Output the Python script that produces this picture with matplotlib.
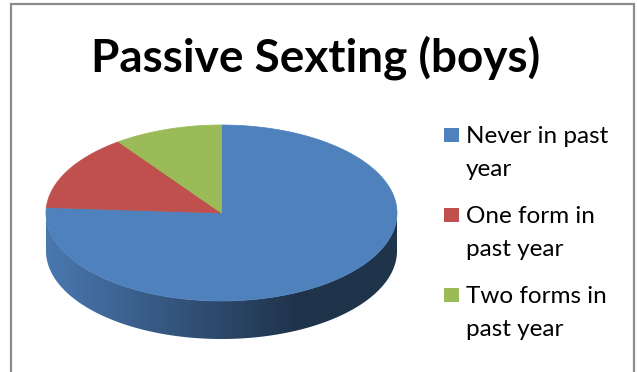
import numpy as np
import matplotlib
matplotlib.use("Agg")
import matplotlib.pyplot as plt
from matplotlib.patches import Polygon, Rectangle
from matplotlib.colors import to_rgb

title = "Passive Sexting (boys)"
categories = ["Never in past\nyear", "One form in\npast year", "Two forms in\npast year"]
shares = [76, 14, 10]
colors = ["#4F81BD", "#C0504D", "#9BBB59"]

W, H = 638, 372
fig = plt.figure(figsize=(W / 100, H / 100), dpi=100)
ax = fig.add_axes([0, 0, 1, 1])
ax.set_xlim(0, W)
ax.set_ylim(H, 0)
ax.axis("off")

# chart frame (open at the bottom)
ax.plot([11, 11, 634, 634], [H + 5, 4, 4, H + 5], color="#8C8C8C", lw=1.6,
        solid_joinstyle="miter", zorder=1)

# pie geometry in pixel space
cx, cy, rx, ry, depth = 221.5, 213.0, 175.5, 88.0, 38.0


def ell(theta_deg, dy=0.0):
    t = np.radians(theta_deg)
    return cx + rx * np.cos(t), cy - ry * np.sin(t) + dy


fracs = np.array(shares, dtype=float) / sum(shares)
bounds = 90 - 360 * np.concatenate([[0], np.cumsum(fracs)])


def shade(x):
    # side wall darkens from left to right
    t = np.clip((x - (cx - rx)) / 250.0, 0, 1)
    return 0.93 - (0.93 - 0.40) * t


xgrid = np.linspace(cx - rx - 2, cx + rx + 2, 400)

# side wall: visible front half of each slice, shaded with a horizontal gradient
for i, c in enumerate(colors):
    a0, a1 = bounds[i + 1], bounds[i]  # a0 < a1
    base = np.array(to_rgb(c))
    for k in range(-1, 2):
        lo = max(a0, 180 + 360 * k)
        hi = min(a1, 360 + 360 * k)
        if hi <= lo:
            continue
        th = np.linspace(lo, hi, 400)
        xt, yt = ell(th)
        xb, yb = ell(th[::-1], depth)
        pts = list(zip(xt, yt)) + list(zip(xb, yb))
        clip = Polygon(pts, closed=True, fc="none", ec="none", transform=ax.transData)
        ax.add_patch(clip)
        grad = np.clip(base[None, :] * shade(xgrid)[:, None], 0, 1)[None, :, :]
        im = ax.imshow(grad, extent=(xgrid[0], xgrid[-1], cy + depth + ry + 2, cy - 2),
                       aspect="auto", interpolation="bilinear", zorder=2)
        im.set_clip_path(clip)

ax.set_xlim(0, W)
ax.set_ylim(H, 0)

# top face wedges
for i, c in enumerate(colors):
    th = np.linspace(bounds[i], bounds[i + 1], 300)
    xs, ys = ell(th)
    pts = [(cx, cy)] + list(zip(xs, ys))
    ax.add_patch(Polygon(pts, closed=True, fc=c, ec=c, lw=0.5, zorder=3))

# title
ax.text(315.5, 72, title, ha="center", va="baseline", fontsize=33,
        fontweight="bold", family="Lato", color="black", zorder=5)

# legend
for i, (lab, c) in enumerate(zip(categories, colors)):
    top = 128 + 80 * i
    ax.add_patch(Rectangle((444, top), 15, 14, fc=c, ec="none", zorder=5))
    for j, line in enumerate(lab.split("\n")):
        ax.text(466, top + 15 + 33 * j, line, ha="left", va="baseline",
                fontsize=17.5, family="Lato", color="black", zorder=5)

fig.savefig("out.png", dpi=100, facecolor="white")
